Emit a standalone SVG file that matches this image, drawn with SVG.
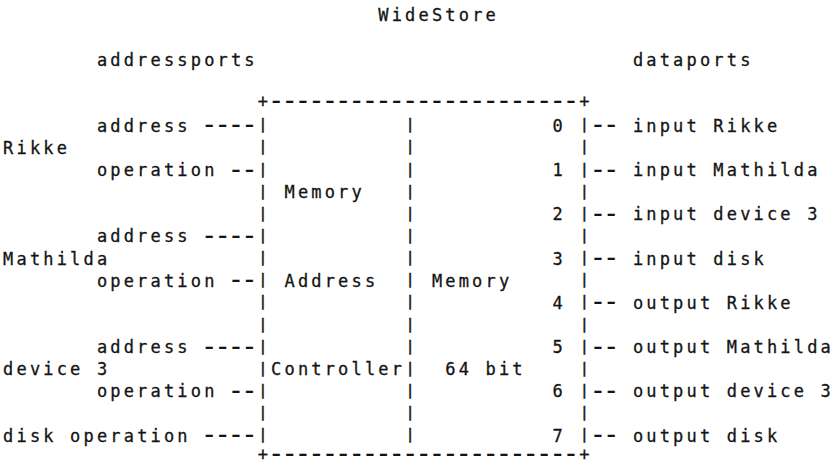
<svg xmlns="http://www.w3.org/2000/svg" width="837" height="461" viewBox="0 0 837 461">
<style>
text{font-family:"DejaVu Sans Mono","Liberation Mono",monospace;font-size:17px;letter-spacing:3.17px;fill:#141414;stroke:#141414;stroke-width:0.3px;white-space:pre}
text.dash{font-size:28px;letter-spacing:-3.46px;stroke-width:0}
text.pipe{font-size:14.5px;letter-spacing:0;stroke-width:0.5px}
</style>
<rect width="837" height="461" fill="#fff"/>
<g id="title"><text x="378.3" y="21">WideStore</text></g>
<g id="addressports"><text x="96.9" y="66">addressports</text></g>
<g id="dataports"><text x="632.9" y="66">dataports</text></g>

<g id="widestore-box">
<text x="257.7" y="107.3">+</text>
<text class="dash" x="267.8" y="109.6">-----------------------</text>
<text x="579.3" y="107.3">+</text>
<text x="257.7" y="460.3">+</text>
<text class="dash" x="267.8" y="462.6">-----------------------</text>
<text x="579.3" y="460.3">+</text>
</g>

<g id="memory-address-controller">
<text class="pipe"><tspan x="258.4" y="129.2">|</tspan><tspan x="258.4" y="151.4">|</tspan><tspan x="258.4" y="173.5">|</tspan><tspan x="258.4" y="195.7">|</tspan><tspan x="258.4" y="217.8">|</tspan><tspan x="258.4" y="240">|</tspan><tspan x="258.4" y="262.1">|</tspan><tspan x="258.4" y="284.3">|</tspan><tspan x="258.4" y="306.4">|</tspan><tspan x="258.4" y="328.6">|</tspan><tspan x="258.4" y="350.7">|</tspan><tspan x="258.4" y="372.9">|</tspan><tspan x="258.4" y="395">|</tspan><tspan x="258.4" y="417.2">|</tspan><tspan x="258.4" y="439.3">|</tspan></text>
<text class="pipe"><tspan x="405.8" y="129.2">|</tspan><tspan x="405.8" y="151.4">|</tspan><tspan x="405.8" y="173.5">|</tspan><tspan x="405.8" y="195.7">|</tspan><tspan x="405.8" y="217.8">|</tspan><tspan x="405.8" y="240">|</tspan><tspan x="405.8" y="262.1">|</tspan><tspan x="405.8" y="284.3">|</tspan><tspan x="405.8" y="306.4">|</tspan><tspan x="405.8" y="328.6">|</tspan><tspan x="405.8" y="350.7">|</tspan><tspan x="405.8" y="372.9">|</tspan><tspan x="405.8" y="395">|</tspan><tspan x="405.8" y="417.2">|</tspan><tspan x="405.8" y="439.3">|</tspan></text>
<text x="284.5" y="198.1">Memory</text>
<text x="284.5" y="286.7">Address</text>
<text x="271.1" y="375.3">Controller</text>
</g>

<g id="memory-64bit">
<text class="pipe"><tspan x="580" y="129.2">|</tspan><tspan x="580" y="151.4">|</tspan><tspan x="580" y="173.5">|</tspan><tspan x="580" y="195.7">|</tspan><tspan x="580" y="217.8">|</tspan><tspan x="580" y="240">|</tspan><tspan x="580" y="262.1">|</tspan><tspan x="580" y="284.3">|</tspan><tspan x="580" y="306.4">|</tspan><tspan x="580" y="328.6">|</tspan><tspan x="580" y="350.7">|</tspan><tspan x="580" y="372.9">|</tspan><tspan x="580" y="395">|</tspan><tspan x="580" y="417.2">|</tspan><tspan x="580" y="439.3">|</tspan></text>
<text x="431.9" y="286.7">Memory</text>
<text x="445.3" y="375.3">64 bit</text>
<text x="552.5" y="131.6">0</text>
<text x="552.5" y="175.9">1</text>
<text x="552.5" y="220.2">2</text>
<text x="552.5" y="264.5">3</text>
<text x="552.5" y="308.8">4</text>
<text x="552.5" y="353.1">5</text>
<text x="552.5" y="397.4">6</text>
<text x="552.5" y="441.7">7</text>
</g>

<g id="port-rikke">
<text x="3.1" y="153.8">Rikke</text>
<text x="96.9" y="131.6">address</text>
<text x="96.9" y="175.9">operation</text>
</g>
<g id="port-mathilda">
<text x="3.1" y="264.5">Mathilda</text>
<text x="96.9" y="242.4">address</text>
<text x="96.9" y="286.7">operation</text>
</g>
<g id="port-device3">
<text x="3.1" y="375.3">device 3</text>
<text x="96.9" y="353.1">address</text>
<text x="96.9" y="397.4">operation</text>
</g>
<g id="port-disk">
<text x="3.1" y="441.7">disk operation</text>
</g>

<g id="dataport-labels">
<text x="632.9" y="131.6">input Rikke</text>
<text x="632.9" y="175.9">input Mathilda</text>
<text x="632.9" y="220.2">input device 3</text>
<text x="632.9" y="264.5">input disk</text>
<text x="632.9" y="308.8">output Rikke</text>
<text x="632.9" y="353.1">output Mathilda</text>
<text x="632.9" y="397.4">output device 3</text>
<text x="632.9" y="441.7">output disk</text>
</g>

<g id="connectors">
<text class="dash" x="200.8" y="134.2">----</text>
<text class="dash" x="227.6" y="178.5">--</text>
<text class="dash" x="200.8" y="245">----</text>
<text class="dash" x="227.6" y="289.3">--</text>
<text class="dash" x="200.8" y="355.7">----</text>
<text class="dash" x="227.6" y="400">--</text>
<text class="dash" x="200.8" y="444.3">----</text>
<text class="dash" x="589.4" y="134.2">--</text>
<text class="dash" x="589.4" y="178.5">--</text>
<text class="dash" x="589.4" y="222.8">--</text>
<text class="dash" x="589.4" y="267.1">--</text>
<text class="dash" x="589.4" y="311.4">--</text>
<text class="dash" x="589.4" y="355.7">--</text>
<text class="dash" x="589.4" y="400">--</text>
<text class="dash" x="589.4" y="444.3">--</text>
</g>
</svg>
